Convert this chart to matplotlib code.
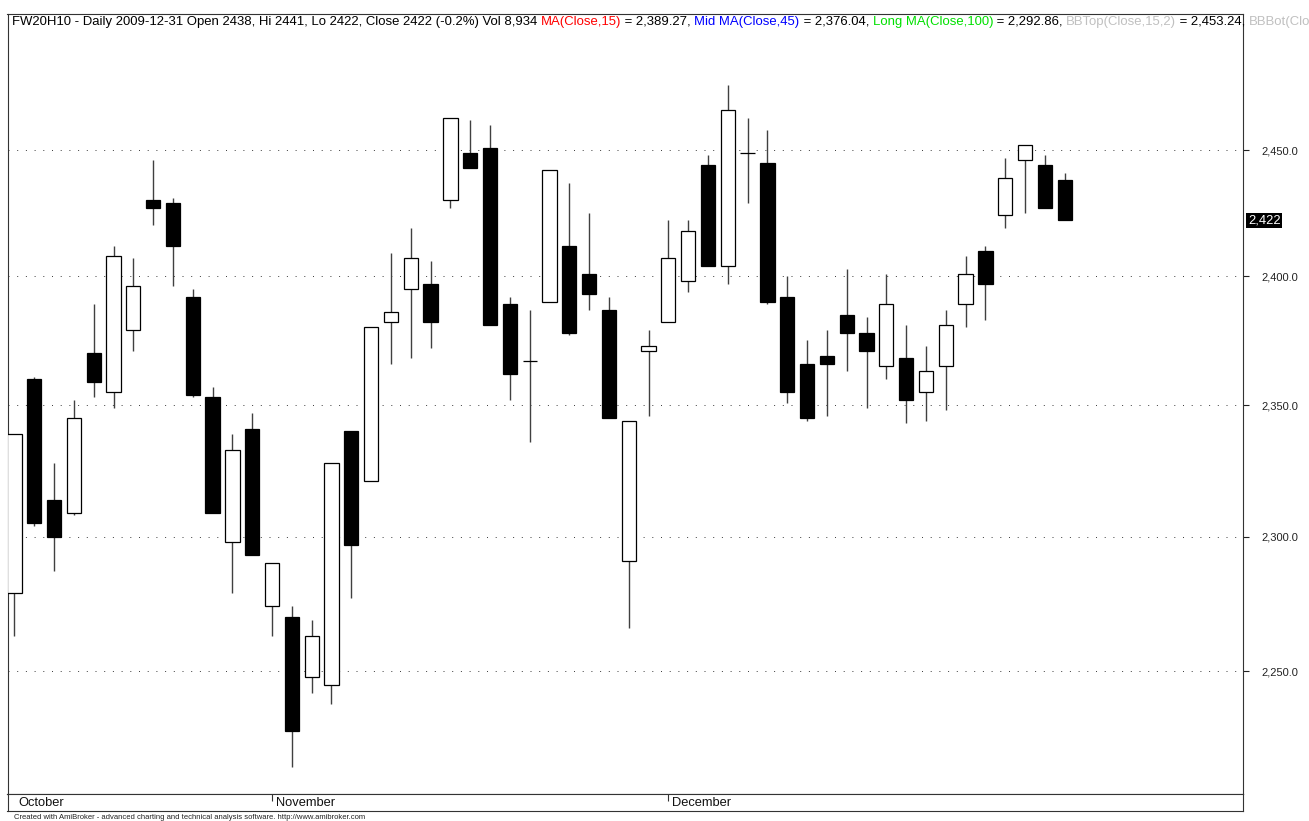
import numpy as np
import matplotlib
matplotlib.use("Agg")
import matplotlib.pyplot as plt
from matplotlib.ticker import FixedLocator, NullLocator, FuncFormatter

plt.rcParams['font.family'] = ['Liberation Sans', 'DejaVu Sans']

# daily OHLC, FW20H10, 2009-10-14 .. 2009-12-31
opens = [2279, 2360, 2314, 2309, 2370, 2355, 2379, 2430, 2429, 2392, 2353, 2298, 2341,
         2274, 2270, 2248, 2245, 2340, 2321, 2382, 2395, 2397, 2430, 2449, 2451, 2389,
         2367, 2390, 2412, 2401, 2387, 2291, 2371, 2382, 2398, 2444, 2404, 2449, 2445,
         2392, 2366, 2369, 2385, 2378, 2365, 2368, 2355, 2365, 2389, 2410, 2424, 2446,
         2444, 2438]
highs = [2339, 2361, 2328, 2352, 2389, 2412, 2407, 2446, 2431, 2395, 2357, 2339, 2347,
         2290, 2274, 2269, 2328, 2340, 2380, 2409, 2419, 2406, 2463, 2462, 2460, 2392,
         2387, 2442, 2437, 2425, 2392, 2344, 2379, 2422, 2422, 2448, 2476, 2463, 2458,
         2400, 2375, 2379, 2403, 2384, 2401, 2381, 2373, 2387, 2408, 2412, 2447, 2452,
         2448, 2441]
lows = [2263, 2304, 2287, 2308, 2353, 2349, 2371, 2420, 2396, 2353, 2309, 2279, 2293,
        2263, 2215, 2242, 2238, 2277, 2321, 2366, 2368, 2372, 2427, 2443, 2381, 2352,
        2336, 2390, 2377, 2387, 2345, 2266, 2346, 2382, 2394, 2404, 2397, 2429, 2389,
        2351, 2344, 2346, 2363, 2349, 2360, 2343, 2344, 2348, 2380, 2383, 2419, 2425,
        2427, 2422]
closes = [2339, 2305, 2300, 2345, 2359, 2408, 2396, 2427, 2412, 2354, 2309, 2333, 2293,
          2290, 2228, 2263, 2328, 2297, 2380, 2386, 2407, 2382, 2463, 2443, 2381, 2362,
          2367, 2442, 2378, 2393, 2345, 2344, 2373, 2407, 2418, 2404, 2466, 2449, 2390,
          2355, 2345, 2366, 2378, 2371, 2389, 2352, 2363, 2381, 2401, 2397, 2439, 2452,
          2427, 2422]

months = ["October", "November", "December"]
month_starts = [0, 13, 33]
yticks = [2250, 2300, 2350, 2400, 2450]

title_parts = [
    ("FW20H10 - Daily 2009-12-31 Open 2438, Hi 2441, Lo 2422, Close 2422 (-0.2%) Vol 8,934 ", "black"),
    ("MA(Close,15)", "#ff0000"),
    (" = 2,389.27, ", "black"),
    ("Mid MA(Close,45)", "#0000ff"),
    (" = 2,376.04, ", "black"),
    ("Long MA(Close,100)", "#00e000"),
    (" = 2,292.86, ", "black"),
    ("BBTop(Close,15,2)", "#c0c0c0"),
    (" = 2,453.24, ", "black"),
    ("BBBot(Close,15,2)", "#c0c0c0"),
]

o = np.array(opens, dtype=float)
h = np.array(highs, dtype=float)
l = np.array(lows, dtype=float)
c = np.array(closes, dtype=float)
x = np.arange(len(o))
up = c >= o

W, H = 1309, 821
L, R, T, B = 7.5, 1243, 14, 794
fig = plt.figure(figsize=(W / 100, H / 100), dpi=100)
ax = fig.add_axes([L / W, 1 - B / H, (R - L) / W, (B - T) / H])

ax.set_yscale('log')
ax.set_ylim(2205.3, 2505.1)
ax.set_xlim(-0.35, 62.0)

# candles
ax.vlines(x, l, h, color='#404040', lw=1.0, zorder=2)
ax.bar(x, np.abs(c - o), bottom=np.minimum(o, c), width=0.72,
       color=np.where(up, 'white', 'black'), edgecolor='black', linewidth=0.9, zorder=3)

# axis
ax.yaxis.set_major_locator(FixedLocator(yticks))
ax.yaxis.set_minor_locator(NullLocator())
ax.yaxis.set_major_formatter(FuncFormatter(lambda v, p: f"{v:,.1f}"))
ax.yaxis.tick_right()
ax.tick_params(axis='y', direction='out', length=4, pad=9, labelsize=8,
               colors='#222222')
ax.tick_params(axis='x', bottom=False, labelbottom=False)
ax.grid(axis='y', linestyle=(0, (1, 7.7)), color='#444444', lw=0.72, zorder=0.5)
for s in ax.spines.values():
    s.set_color('#333333')
    s.set_linewidth(0.8)

# last price marker
ax.annotate(f"{closes[-1]:,}", xy=(1, closes[-1]), xycoords=('axes fraction', 'data'),
            xytext=(5, 0), textcoords='offset pixels', ha='left', va='center',
            color='white', fontsize=9.3, annotation_clip=False,
            bbox=dict(boxstyle='square,pad=0.12', fc='black', ec='none'))

# date strip
ax2 = fig.add_axes([L / W, 1 - 811 / H, (R - L) / W, (811 - B) / H])
ax2.set_xlim(ax.get_xlim())
ax2.set_ylim(0, 1)
ax2.set_yticks([])
ax2.set_xticks(month_starts[1:])
ax2.tick_params(axis='x', top=True, bottom=False, direction='in', length=5,
                labelbottom=False, color='#333333')
for s in ax2.spines.values():
    s.set_color('#333333')
    s.set_linewidth(0.8)
for name, s in zip(months, month_starts):
    ax2.annotate(name, xy=(s, 0.5), xytext=(4, 0), textcoords='offset pixels',
                 ha='left', va='center', fontsize=9.3, color='#111111')

# title line
t = fig.text(12 / W, 1 - 22 / H, title_parts[0][0], color=title_parts[0][1],
             fontsize=9.45, ha='left', va='center')
for txt, col in title_parts[1:]:
    t = ax.annotate(txt, xy=(1, 0), xycoords=t, ha='left', va='bottom',
                    color=col, fontsize=9.45, annotation_clip=False)

fig.text(14 / W, 1 - 817 / H,
         "Created with AmiBroker - advanced charting and technical analysis software. http://www.amibroker.com",
         fontsize=5.5, ha='left', va='center', color='#222222')

fig.savefig('out.png', dpi=100)
